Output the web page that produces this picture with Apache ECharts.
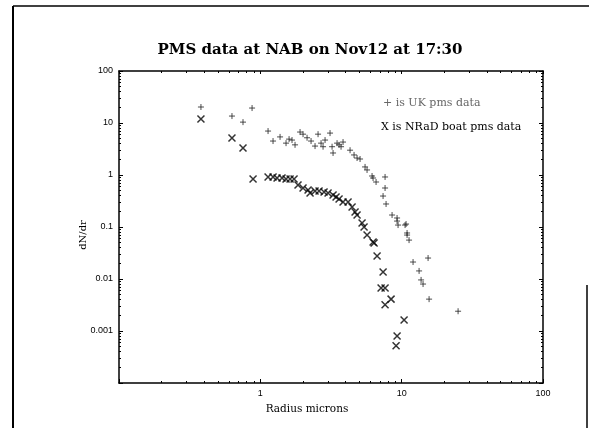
<!DOCTYPE html>
<html>
<head>
<meta charset="utf-8">
<script src="https://cdn.jsdelivr.net/npm/echarts@6/dist/echarts.min.js"></script>
<style>
html,body{margin:0;padding:0;background:#fff;}
#chart{width:589px;height:428px;}
</style>
</head>
<body>
<div id="chart"></div>
<script>
// UK pms data (+)
var ukRadius = [0.380,0.630,0.754,0.874,1.134,1.230,1.379,1.520,1.597,1.676,1.760,1.910,2.005,2.141,2.285,2.438,2.561,2.689,2.778,2.870,3.113,3.218,3.270,3.490,3.606,3.725,3.848,4.313,4.604,4.834,5.077,5.508,5.690,6.173,6.275,6.590,7.630,7.630,7.386,7.756,8.553,9.279,9.430,10.57,10.92,9.279,10.74,10.92,11.28,12.04,15.38,13.28,13.72,14.17,15.63,25.07];
var ukDndr   = [20.3,13.6,10.4,19.4,7.0,4.5,5.4,4.1,4.9,4.7,3.8,6.7,6.1,5.2,4.5,3.6,6.1,4.1,3.5,4.7,6.4,3.5,2.65,4.1,3.8,3.5,4.3,3.0,2.43,2.12,2.03,1.43,1.25,0.957,0.875,0.733,0.916,0.562,0.394,0.277,0.170,0.149,0.109,0.109,0.0767,0.130,0.114,0.070,0.056,0.0212,0.0253,0.0143,0.0096,0.0080,0.0041,0.0024];
// NRaD boat pms data (X)
var nradRadius = [0.380,0.630,0.754,0.888,1.134,1.230,1.313,1.424,1.520,1.623,1.732,1.848,2.005,2.176,2.248,2.438,2.603,2.824,3.014,3.270,3.434,3.606,3.848,4.175,4.457,4.680,4.834,5.245,5.419,5.690,6.275,6.379,6.698,7.386,7.150,7.630,8.414,7.630,10.40,9.279,9.129];
var nradDndr   = [11.9,5.15,3.3,0.84,0.916,0.916,0.875,0.875,0.837,0.837,0.837,0.643,0.562,0.515,0.451,0.492,0.492,0.471,0.451,0.412,0.377,0.345,0.303,0.303,0.243,0.194,0.170,0.119,0.100,0.070,0.0515,0.0492,0.0277,0.0136,0.0067,0.0067,0.0041,0.0032,0.00163,0.0008,0.00052];
// tick labels
var xTickLabels = ['1','10','100'];
var yTickLabels = ['0.001','0.01','0.1','1','10','100'];

function pairs(xs, ys){ return xs.map(function(x,i){ return [x, ys[i]]; }); }
function fmtX(v){ var s = String(Math.round(v*1000)/1000); return xTickLabels.indexOf(s) >= 0 ? s : ''; }
function fmtY(v){ var e = Math.round(Math.log10(v)); var s = e >= 0 ? String(Math.pow(10,e)) : (Math.pow(10,e)).toFixed(-e); return yTickLabels.indexOf(s) >= 0 ? s : ''; }

var plusPath = 'path://M0,-1L0,1M-1,0L1,0';
var crossPath = 'path://M-1,-1L1,1M-1,1L1,-1';
var serif = '"DejaVu Serif","Liberation Serif",serif';
var sans = '"Liberation Sans","DejaVu Sans",sans-serif';

var chart = echarts.init(document.getElementById('chart'));
chart.setOption({
  animation: false,
  backgroundColor: '#fff',
  title: {
    text: 'PMS data at NAB on Nov12 at 17:30',
    left: 305, top: 38, textAlign: 'center',
    textStyle: {fontFamily: serif, fontSize: 15, fontWeight: 'bold', color: '#000'}
  },
  grid: {left: 119, right: 46, top: 71, bottom: 45, show: false},
  xAxis: [{
    type: 'log', logBase: 10, min: 0.1, max: 100,
    axisLine: {lineStyle: {color: '#000', width: 1.5}},
    axisTick: {inside: true, length: 4, lineStyle: {color: '#000'}},
    minorTick: {show: true, splitNumber: 9, length: 2, lineStyle: {color: '#000'}},
    splitLine: {show: false},
    axisLabel: {formatter: fmtX, fontFamily: sans, fontSize: 9, color: '#000', margin: 6}
  },{
    type: 'log', logBase: 10, min: 0.1, max: 100, position: 'top',
    axisLine: {lineStyle: {color: '#000', width: 1.5}},
    axisTick: {inside: true, length: 3, lineStyle: {color: '#000'}},
    minorTick: {show: true, splitNumber: 9, length: 2, lineStyle: {color: '#000'}},
    splitLine: {show: false},
    axisLabel: {show: false}
  }],
  yAxis: [{
    type: 'log', logBase: 10, min: 0.0001, max: 100,
    axisLine: {lineStyle: {color: '#000', width: 1.5}},
    axisTick: {inside: true, length: 4, lineStyle: {color: '#000'}},
    minorTick: {show: true, splitNumber: 9, length: 2, lineStyle: {color: '#000'}},
    splitLine: {show: false},
    axisLabel: {formatter: fmtY, fontFamily: sans, fontSize: 9, color: '#000', margin: 6}
  },{
    type: 'log', logBase: 10, min: 0.0001, max: 100, position: 'right',
    axisLine: {lineStyle: {color: '#000', width: 1.5}},
    axisTick: {inside: true, length: 4, lineStyle: {color: '#000'}},
    minorTick: {show: true, splitNumber: 9, length: 2, lineStyle: {color: '#000'}},
    splitLine: {show: false},
    axisLabel: {show: false}
  }],
  series: [{
    name: '+ is UK pms data', type: 'scatter',
    data: pairs(ukRadius, ukDndr),
    symbol: plusPath, symbolSize: 6,
    itemStyle: {color: 'rgba(0,0,0,0)', borderColor: '#222', borderWidth: 1}
  },{
    name: 'X is NRaD boat pms data', type: 'scatter',
    data: pairs(nradRadius, nradDndr),
    symbol: crossPath, symbolSize: 7,
    itemStyle: {color: 'rgba(0,0,0,0)', borderColor: '#000', borderWidth: 1.5}
  }],
  graphic: [
    {type: 'text', x: 383, y: 103, style: {text: '+ is UK pms data', font: '11px ' + serif, fill: '#666', textVerticalAlign: 'middle'}},
    {type: 'text', x: 381, y: 127, style: {text: 'X is NRaD boat pms data', font: '11px ' + serif, fill: '#000', textVerticalAlign: 'middle'}},
    {type: 'text', x: 307, y: 409, style: {text: 'Radius microns', font: '10.5px ' + serif, fill: '#000', textAlign: 'center', textVerticalAlign: 'middle'}},
    {type: 'text', x: 83, y: 235, rotation: Math.PI / 2, style: {text: 'dN/dr', font: '10px ' + serif, fill: '#000', textAlign: 'center', textVerticalAlign: 'middle'}},
    {type: 'line', shape: {x1: 13, y1: 6, x2: 13, y2: 428}, style: {stroke: '#000', lineWidth: 2}},
    {type: 'line', shape: {x1: 13, y1: 6, x2: 589, y2: 6}, style: {stroke: '#000', lineWidth: 1.5}},
    {type: 'line', shape: {x1: 587, y1: 285, x2: 587, y2: 428}, style: {stroke: '#000', lineWidth: 1.5}}
  ]
});
</script>
</body>
</html>
